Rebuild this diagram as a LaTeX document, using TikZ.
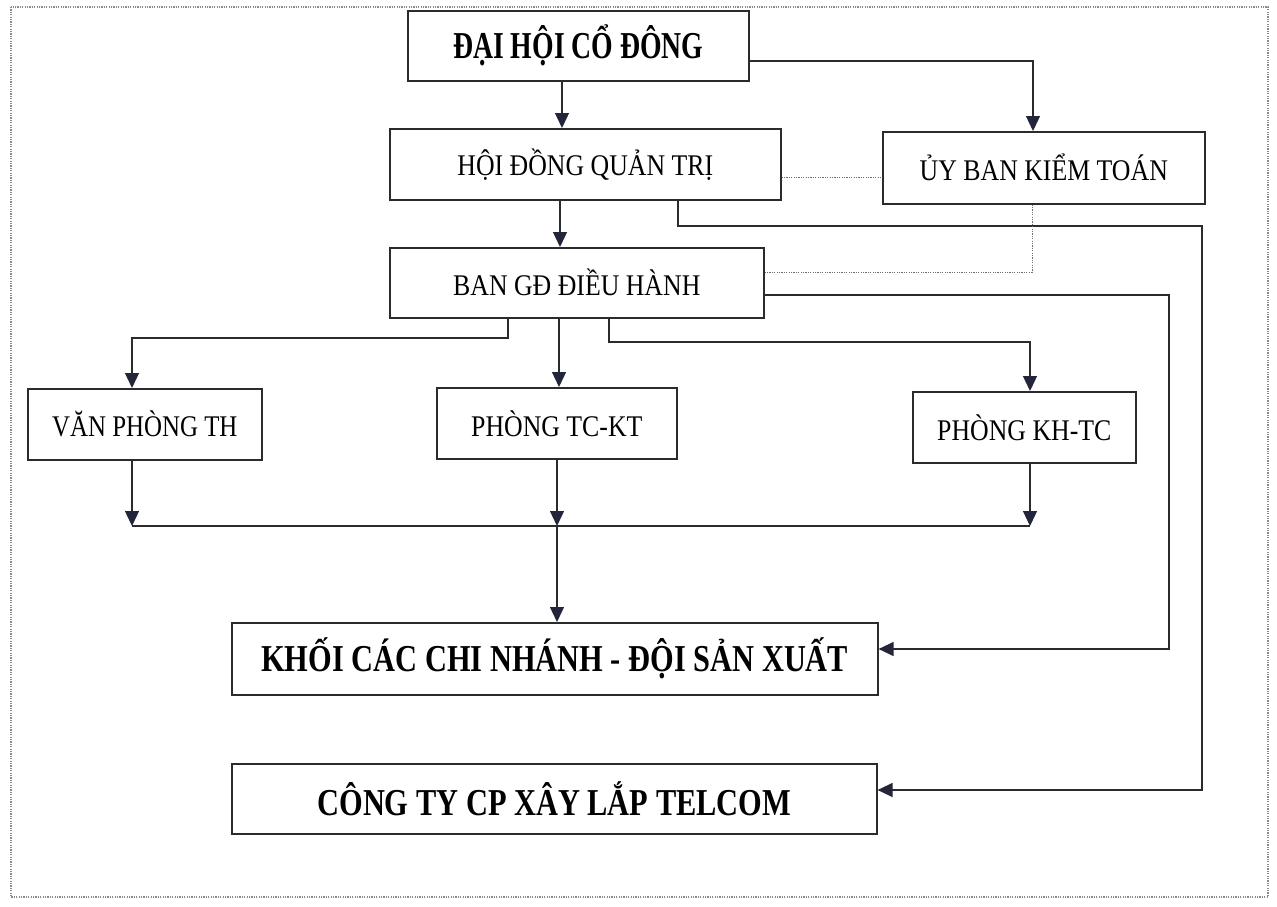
\documentclass[tikz,border=0pt]{standalone}
\usepackage{fontspec}
\usepackage{graphicx}
\setmainfont{Liberation Serif}
\usetikzlibrary{arrows.meta,calc}
\definecolor{ink}{HTML}{2B2B2E}
\definecolor{head}{HTML}{23263A}
\definecolor{frame}{HTML}{8A8A8A}
\newcommand{\sq}[2]{\scalebox{#1}[1]{#2}}
\tikzset{
  box/.style={draw=ink, line width=1.6pt, fill=white, inner sep=0pt, anchor=north west},
  reg/.style={font=\fontsize{30}{32}\selectfont},
  big/.style={font=\fontsize{38}{40}\selectfont\bfseries},
  conn/.style={draw=ink, line width=1.3pt},
  arr/.style={conn, -{Triangle[length=15pt,width=14pt,color=head]}},
  dots/.style={draw=frame, line width=1.2pt, dash pattern=on 1.2pt off 1.2pt},
}
\begin{document}
\begin{tikzpicture}[x=1pt,y=-1pt]
\useasboundingbox (0,0) rectangle (1277,907);
\fill[white] (0,0) rectangle (1277,907);
% outer dotted frame
\draw[dots] (11,7) rectangle (1268,897);

% boxes
\node[box, minimum width=341pt, minimum height=70pt] (DH) at (407,10) {};
\node[font=\fontsize{38}{40}\selectfont\bfseries] at (DH.center) {\sq{0.73}{ĐẠI HỘI CỔ ĐÔNG}};
\node[box, minimum width=391pt, minimum height=71pt] (HD) at (389,128) {};
\node[reg] at (HD.center) {\sq{0.86}{HỘI ĐỒNG QUẢN TRỊ}};
\node[box, minimum width=322pt, minimum height=72pt] (UB) at (882,131) {};
\node[reg] at (UB.center) {\sq{0.86}{ỦY BAN KIỂM TOÁN}};
\node[box, minimum width=374pt, minimum height=70pt] (BG) at (389,247) {};
\node[reg] at (BG.center) {\sq{0.86}{BAN GĐ ĐIỀU HÀNH}};
\node[box, minimum width=234pt, minimum height=71pt] (VP) at (27,388) {};
\node[reg] at (VP.center) {\sq{0.83}{VĂN PHÒNG TH}};
\node[box, minimum width=240pt, minimum height=71pt] (TK) at (436,387) {};
\node[reg] at (TK.center) {\sq{0.86}{PHÒNG TC-KT}};
\node[box, minimum width=223pt, minimum height=71pt] (KH) at (912,391) {};
\node[reg] at (KH.center) {\sq{0.86}{PHÒNG KH-TC}};
\node[box, minimum width=646pt, minimum height=72pt] (KC) at (231,622) {};
\node[big] at (KC.center) {\sq{0.80}{KHỐI CÁC CHI NHÁNH - ĐỘI SẢN XUẤT}};
\node[box, minimum width=645pt, minimum height=70pt] (CT) at (231,763) {};
\node[big] at (CT.center) {\sq{0.80}{CÔNG TY CP XÂY LẮP TELCOM}};

% helper coordinates
\coordinate (j1) at (1033,61);
\coordinate (j2) at (1202,226);
\coordinate (j3) at (1032,272);
\coordinate (j4) at (1169,295);
\coordinate (j5) at (132,338);
\coordinate (j6) at (1030,342);
\coordinate (bl) at (132,526);
\coordinate (br) at (1030,526);
\coordinate (bm) at (557,526);

% connectors
\draw[arr] (562,0 |- DH.south) -- (562,0 |- HD.north);
\draw[arr] (DH.east |- j1) -- (j1) -- (j1 |- UB.north);
\draw[dots, draw=ink!70, line width=1pt] (HD.east |- 0,177) -- (UB.west |- 0,177);
\draw[arr] (678,0 |- HD.south) |- (j2) |- (CT.east |- 0,790);
\draw[arr] (560,0 |- HD.south) -- (560,0 |- BG.north);
\draw[dots, draw=ink!70, line width=1pt] (1032,0 |- UB.south) -- (j3) -- (BG.east |- j3);
\draw[arr] (BG.east |- j4) -- (j4) |- (KC.east |- 0,649);
\draw[arr] (508,0 |- BG.south) |- (j5) -- (j5 |- VP.north);
\draw[arr] (559,0 |- BG.south) -- (559,0 |- TK.north);
\draw[arr] (609,0 |- BG.south) |- (j6) -- (j6 |- KH.north);
\draw[arr] (132,0 |- VP.south) -- (bl);
\draw[arr] (557,0 |- TK.south) -- (bm);
\draw[arr] (1030,0 |- KH.south) -- (br);
\draw[conn] (bl) -- (br);
\draw[arr] (bm) -- (bm |- KC.north);
\end{tikzpicture}
\end{document}
